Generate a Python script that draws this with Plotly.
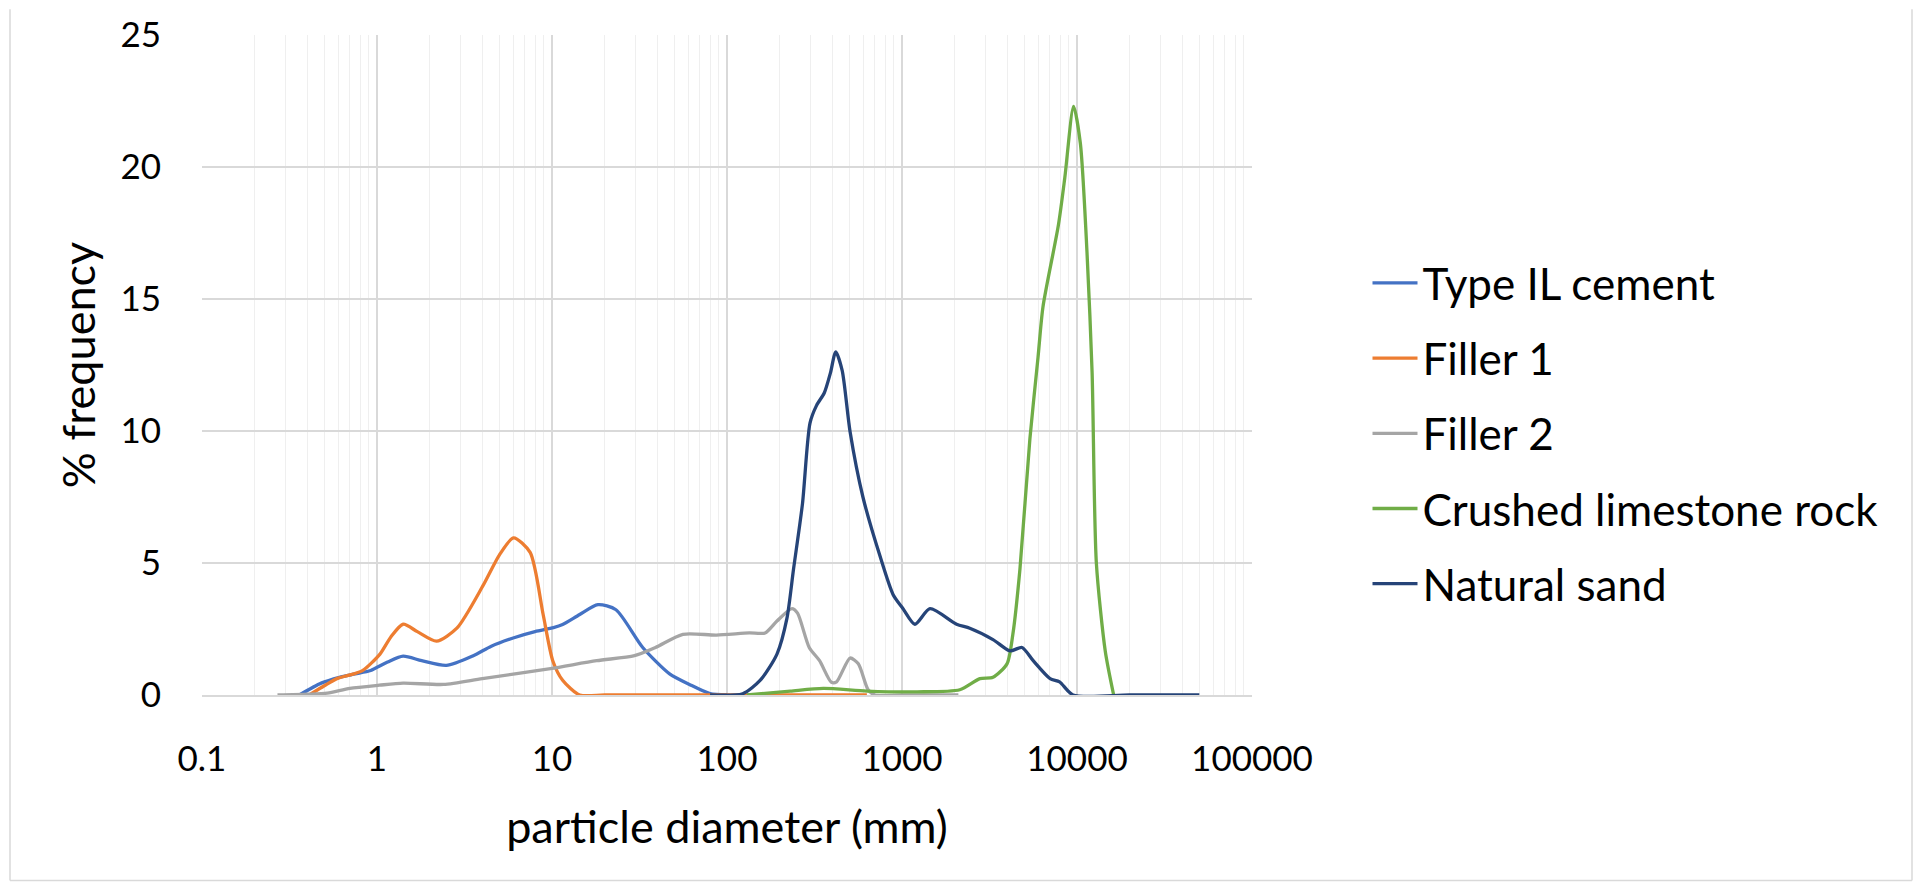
import plotly.graph_objects as go

# ---- data ----
cement_x = [0.36, 0.48, 0.61, 0.75, 0.92, 1.15, 1.41, 1.8, 2.49, 3.55, 4.5, 6.0, 8.0, 10.2, 11.5, 14.4, 18.3, 23.2, 33, 47, 61, 80, 100]
cement_y = [0, 0.45, 0.67, 0.8, 0.93, 1.25, 1.47, 1.3, 1.12, 1.49, 1.85, 2.16, 2.4, 2.55, 2.67, 3.05, 3.42, 3.23, 1.8, 0.8, 0.4, 0.05, 0]

filler1_x = [0.41, 0.5, 0.59, 0.72, 0.83, 1.04, 1.2, 1.41, 1.7, 2.19, 2.86, 4.04, 5.0, 6.03, 7.5, 8.9, 10.1, 11.5, 14.4, 20, 50, 100, 300, 630]
filler1_y = [0, 0.35, 0.62, 0.78, 0.93, 1.55, 2.2, 2.68, 2.4, 2.04, 2.53, 4.15, 5.3, 5.95, 5.4, 3.05, 1.3, 0.56, 0, 0, 0, 0, 0, 0]

filler2_x = [0.27, 0.4, 0.52, 0.7, 1.03, 1.41, 2.4, 4.0, 9.8, 18, 29.6, 39, 56, 87, 134, 165, 193, 235, 253, 295, 338, 395, 423, 505, 563, 640, 700, 1000, 2100]
filler2_y = [0, 0.03, 0.07, 0.25, 0.37, 0.45, 0.4, 0.62, 1.0, 1.3, 1.49, 1.8, 2.3, 2.27, 2.35, 2.35, 2.8, 3.27, 3.1, 1.8, 1.3, 0.48, 0.5, 1.4, 1.18, 0.2, 0, 0, 0]

limestone_x = [130, 230, 355, 630, 1220, 2140, 2790, 3310, 3980, 4300, 4720, 5380, 5990, 6390, 7830, 8520, 9560, 10450, 11400, 12200, 12900, 14500, 16200]
limestone_y = [0, 0.15, 0.25, 0.15, 0.12, 0.2, 0.62, 0.67, 1.18, 2.3, 4.77, 9.7, 12.8, 14.7, 17.8, 19.6, 22.3, 20.9, 16.8, 12.2, 5.0, 1.67, 0]

sand_x = [80, 123, 155, 193, 220, 240, 270, 298, 325, 360, 390, 418, 455, 505, 598, 748, 890, 1014, 1185, 1445, 2050, 2440, 3310, 4140, 4850, 5620, 7020, 7950, 9490, 20000, 50000]
sand_y = [0, 0.05, 0.56, 1.55, 2.9, 4.77, 7.25, 10.3, 10.97, 11.45, 12.2, 13.0, 12.3, 9.97, 7.5, 5.27, 3.8, 3.27, 2.68, 3.27, 2.68, 2.53, 2.1, 1.67, 1.8, 1.3, 0.62, 0.5, 0, 0, 0]

series_names = ["Type IL cement", "Filler 1", "Filler 2", "Crushed limestone rock", "Natural sand"]
series_x = [cement_x, filler1_x, filler2_x, limestone_x, sand_x]
series_y = [cement_y, filler1_y, filler2_y, limestone_y, sand_y]
colors = ["#4472C4", "#ED7D31", "#A5A5A5", "#70AD47", "#264478"]

x_tick_vals = [0.1, 1, 10, 100, 1000, 10000, 100000]
x_tick_text = ["0.1", "1", "10", "100", "1000", "10000", "100000"]
y_tick_vals = [0, 5, 10, 15, 20, 25]

FONT = "Lato"
TICK_FS = 35
TITLE_FS = 45
LEG_FS = 44

fig = go.Figure()
for i, (name, xs, ys) in enumerate(zip(series_names, series_x, series_y)):
    fig.add_trace(go.Scatter(
        x=xs, y=ys, name=name, mode="lines",
        line=dict(color=colors[i], width=3.3, shape="spline", smoothing=0.7),
        cliponaxis=False, legendgroup=str(i),
    ))

minor_vals = [m * 10 ** e for e in range(-1, 5) for m in range(2, 10)]

fig.update_layout(
    width=1921, height=884,
    margin=dict(l=202, r=669, t=26, b=189),
    paper_bgcolor="white", plot_bgcolor="white",
    font=dict(family=FONT, size=TICK_FS, color="#000000"),
    showlegend=True,
    legend=dict(x=1.11, y=0.3965, xanchor="left", yanchor="middle",
                font=dict(family=FONT, size=LEG_FS, color="#000000"),
                tracegroupgap=15, itemwidth=45, bgcolor="rgba(0,0,0,0)"),
    xaxis=dict(
        type="log", range=[-1, 5],
        tickmode="array", tickvals=x_tick_vals, ticktext=x_tick_text,
        showgrid=True, gridcolor="#D9D9D9", gridwidth=1.5,
        minor=dict(tickmode="array", tickvals=minor_vals, showgrid=True,
                   gridcolor="#EFEFEF", gridwidth=1, ticks=""),
        ticks="", ticklabelstandoff=32,
        showline=True, linecolor="#D9D9D9", linewidth=2,
        zeroline=False,
        title=dict(text="particle diameter (mm)", standoff=34,
                   font=dict(family=FONT, size=TITLE_FS)),
        tickfont=dict(family=FONT, size=TICK_FS),
    ),
    yaxis=dict(
        range=[0, 25], tickmode="array", tickvals=y_tick_vals,
        showgrid=True, gridcolor="#D9D9D9", gridwidth=1.5,
        ticks="", ticklabelstandoff=40, zeroline=False,
        showline=False,
        title=dict(text="% frequency", standoff=10,
                   font=dict(family=FONT, size=TITLE_FS)),
        tickfont=dict(family=FONT, size=TICK_FS),
    ),
)

# outer chart border (left, right, bottom only)
def px_x(X):
    return (X - 202) / 1050

def px_y(Y):
    return (695 - Y) / 669

border = dict(color="#D9D9D9", width=1.5)
fig.add_shape(type="line", xref="paper", yref="paper", x0=px_x(10), x1=px_x(10), y0=px_y(883), y1=px_y(0), line=border, layer="below")
fig.add_shape(type="line", xref="paper", yref="paper", x0=px_x(1912), x1=px_x(1912), y0=px_y(883), y1=px_y(0), line=border, layer="below")
fig.add_shape(type="line", xref="paper", yref="paper", x0=px_x(10), x1=px_x(1912), y0=px_y(883), y1=px_y(883), line=border, layer="below")

fig.write_html("out.html", config={"displayModeBar": False},
               post_script="document.body.style.margin='0';document.body.style.overflow='hidden';")
